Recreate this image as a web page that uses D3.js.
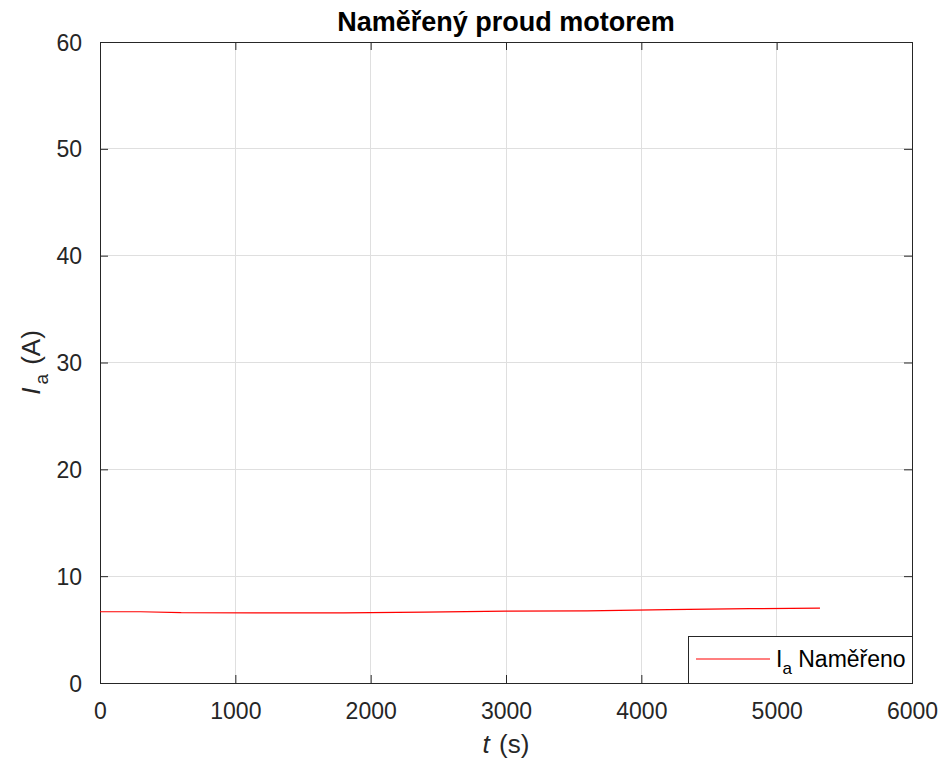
<!DOCTYPE html>
<html>
<head>
<meta charset="utf-8">
<script src="https://cdn.jsdelivr.net/npm/d3@7"></script>
<style>
  html, body { margin: 0; padding: 0; background: #fff; }
  svg { display: block; font-family: "Liberation Sans", Arial, Helvetica, sans-serif; }
</style>
</head>
<body>
<svg id="chart" width="944" height="762"></svg>
<script>
const title = "Naměřený proud motorem";
const timeS = [0, 300, 600, 1200, 1800, 2400, 3000, 3600, 4200, 4800, 5320];
const currentA = [6.67, 6.67, 6.58, 6.57, 6.56, 6.64, 6.73, 6.76, 6.87, 6.96, 7.0];
const xTicks = [0, 1000, 2000, 3000, 4000, 5000, 6000];
const yTicks = [0, 10, 20, 30, 40, 50, 60];
const legendLabel = "Naměřeno";

const m = { left: 100, right: 912, top: 42, bottom: 683 };
const axisColor = "#262626";
const svg = d3.select("#chart");

const x = d3.scaleLinear().domain([0, 6000]).range([m.left, m.right]);
const y = d3.scaleLinear().domain([0, 60]).range([m.bottom, m.top]);

// grid
const g = svg.append("g");
g.selectAll("line.gx").data(xTicks).join("line")
  .attr("x1", d => x(d)).attr("x2", d => x(d))
  .attr("y1", m.top).attr("y2", m.bottom)
  .attr("stroke", "#dfdfdf").attr("stroke-width", 1).attr("shape-rendering", "crispEdges");
g.selectAll("line.gy").data(yTicks).join("line")
  .attr("y1", d => y(d)).attr("y2", d => y(d))
  .attr("x1", m.left).attr("x2", m.right)
  .attr("stroke", "#dfdfdf").attr("stroke-width", 1).attr("shape-rendering", "crispEdges");

// axes (ticks inside)
const tickLen = 8;
const fontSize = 23;
const labelSize = 26;
const xAxis = d3.axisBottom(x).tickValues(xTicks).tickSize(-tickLen).tickPadding(tickLen + 12).tickFormat(d3.format("d"));
const yAxis = d3.axisLeft(y).tickValues(yTicks).tickSize(-tickLen).tickPadding(tickLen + 10).tickFormat(d3.format("d"));
const xTop = d3.axisTop(x).tickValues(xTicks).tickSize(-tickLen).tickFormat("");
const yRight = d3.axisRight(y).tickValues(yTicks).tickSize(-tickLen).tickFormat("");

function styleAxis(sel) {
  sel.selectAll("line").attr("stroke", axisColor).attr("stroke-width", 1);
  sel.selectAll("text").attr("fill", axisColor).attr("font-size", fontSize)
    .attr("font-family", '"Liberation Sans", Arial, Helvetica, sans-serif');
  sel.select(".domain").remove();
}
svg.append("g").attr("transform", `translate(0,${m.bottom})`).call(xAxis).call(styleAxis);
const gy = svg.append("g").attr("transform", `translate(${m.left},0)`).call(yAxis).call(styleAxis);
svg.append("g").attr("transform", `translate(0,${m.top})`).call(xTop).call(styleAxis);
svg.append("g").attr("transform", `translate(${m.right},0)`).call(yRight).call(styleAxis);
gy.selectAll("text").attr("dy", "0.35em");

// box
svg.append("rect").attr("x", m.left).attr("y", m.top)
  .attr("width", m.right - m.left).attr("height", m.bottom - m.top)
  .attr("fill", "none").attr("stroke", axisColor).attr("stroke-width", 1)
  .attr("shape-rendering", "crispEdges");

// data line
const line = d3.line().x((d, i) => x(timeS[i])).y(d => y(d));
svg.append("path").datum(currentA)
  .attr("d", line).attr("fill", "none").attr("stroke", "#ff0000").attr("stroke-width", 1.2);

// title
svg.append("text").attr("x", (m.left + m.right) / 2).attr("y", 31)
  .attr("text-anchor", "middle").attr("font-weight", "bold").attr("font-size", 27)
  .attr("fill", "#000").text(title);

// x label
const xl = svg.append("text").attr("x", (m.left + m.right) / 2).attr("y", 753)
  .attr("text-anchor", "middle").attr("font-size", labelSize).attr("fill", axisColor);
xl.append("tspan").attr("font-style", "italic").text("t");
xl.append("tspan").attr("dx", 2).text(" (s)");

// y label
const yl = svg.append("text")
  .attr("transform", `translate(40,${(m.top + m.bottom) / 2}) rotate(-90)`)
  .attr("text-anchor", "middle").attr("font-size", labelSize).attr("fill", axisColor);
yl.append("tspan").attr("font-style", "italic").text("I");
yl.append("tspan").attr("font-size", 19).attr("dy", 8).attr("dx", 3).text("a");
yl.append("tspan").attr("dy", -8).attr("dx", 2).text(" (A)");

// legend
const lg = svg.append("g");
lg.append("rect").attr("x", 688).attr("y", 636).attr("width", 224).attr("height", 47)
  .attr("fill", "#fff").attr("stroke", axisColor).attr("stroke-width", 1)
  .attr("shape-rendering", "crispEdges");
lg.append("line").attr("x1", 696).attr("x2", 770).attr("y1", 659).attr("y2", 659)
  .attr("stroke", "#ff0000").attr("stroke-width", 1.2);
const lt = lg.append("text").attr("x", 776).attr("y", 667)
  .attr("font-size", fontSize).attr("fill", "#000");
lt.append("tspan").text("I");
lt.append("tspan").attr("font-size", 17).attr("dy", 7).text("a");
lt.append("tspan").attr("dy", -7).text(" " + legendLabel);
</script>
</body>
</html>
